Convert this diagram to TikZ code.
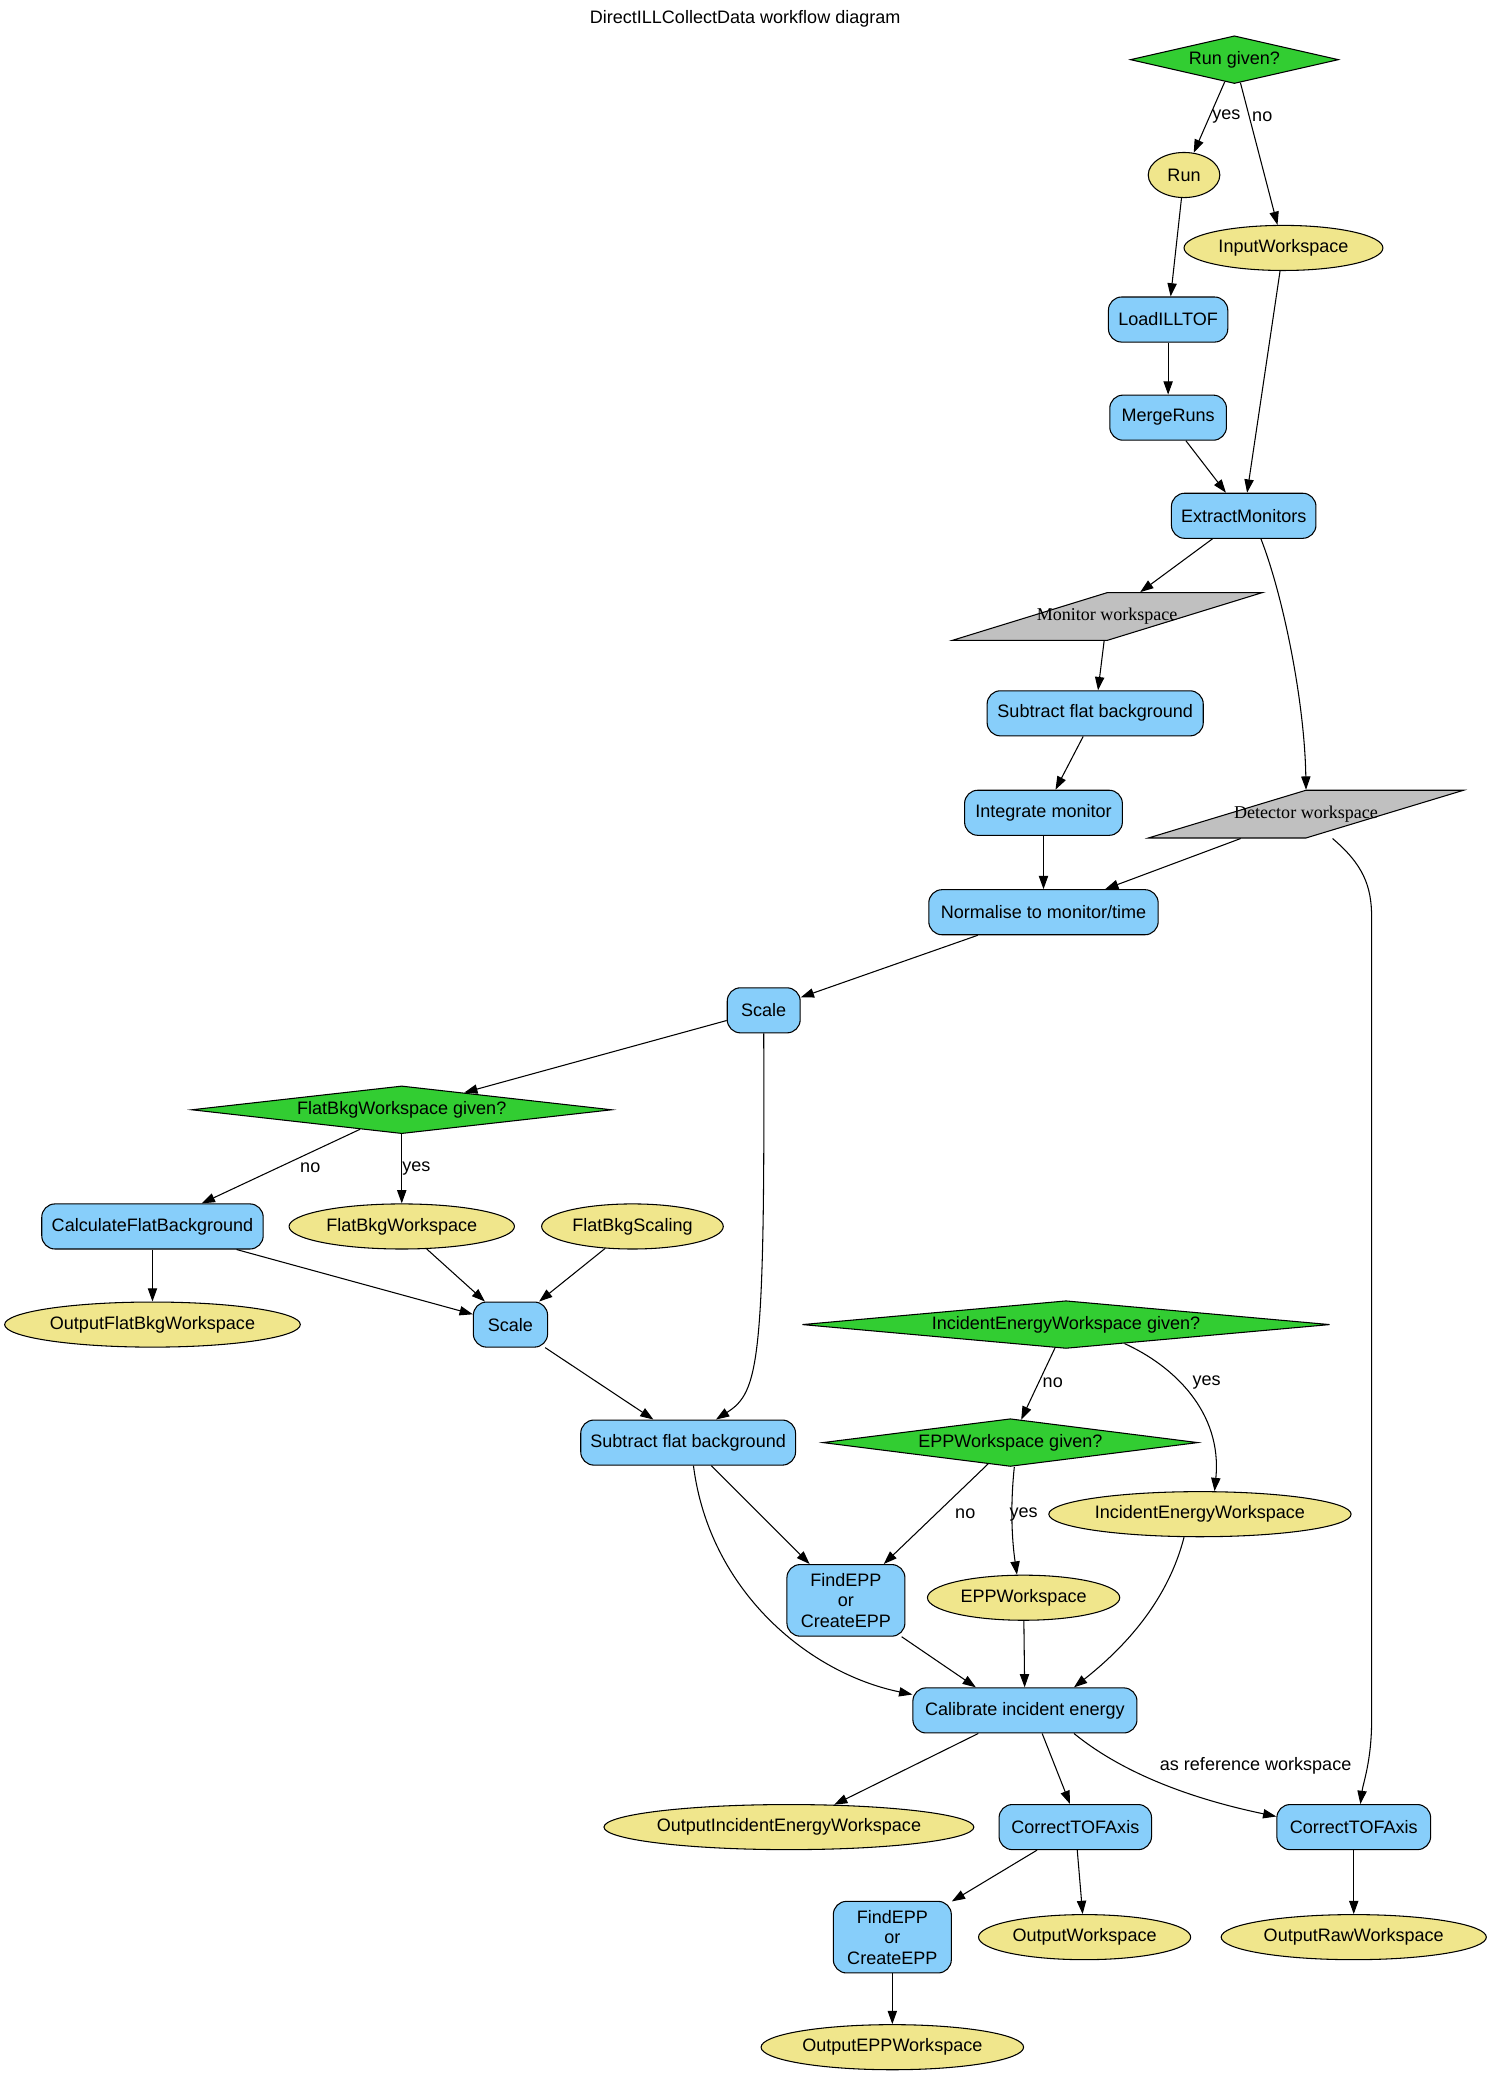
\documentclass[tikz,border=0pt]{standalone}
\usepackage{fontspec}
\setmainfont{Liberation Serif}
\setsansfont{Liberation Sans}
\usetikzlibrary{shapes.geometric,arrows.meta,calc}
\definecolor{procblue}{HTML}{87CEFA}
\definecolor{iokhaki}{HTML}{F0E68C}
\definecolor{decgreen}{HTML}{32CD32}
\definecolor{wsgray}{HTML}{C0C0C0}
\newcommand{\zw}[1]{\makebox[0pt]{#1}}
\begin{document}
\begin{tikzpicture}[x=1pt,y=-1pt,
  every node/.style={font=\sffamily\fontsize{13.6}{15.5}\selectfont},
  proc/.style={draw, fill=procblue, rounded corners=10pt, minimum height=34pt, inner sep=0pt, align=center, line width=0.8pt},
  io/.style={ellipse, draw, fill=iokhaki, minimum height=34pt, inner sep=0pt, line width=0.8pt},
  decision/.style={diamond, draw, fill=decgreen, minimum height=36pt, inner sep=0pt, line width=0.8pt},
  pgram/.style={trapezium, trapezium left angle=45, trapezium right angle=135, trapezium stretches=true, draw, fill=wsgray, minimum height=36pt, inner sep=0pt, line width=0.8pt, font=\rmfamily\fontsize{13.6}{15.5}\selectfont},
  arr/.style={draw, line width=0.8pt, -{Triangle[length=10pt,width=7pt]}},
  lbl/.style={inner sep=0pt}
]
\fill[white] (0,0) rectangle (1125,1568);
\useasboundingbox (0,0) rectangle (1125,1568);

\node (title) at (562,14) {DirectILLCollectData workflow diagram};
\node[decision, minimum width=157pt] (rg) at (931,45) {\zw{Run given?}};
\node[io, minimum width=54pt] (run) at (893,132) {\zw{Run}};
\node[io, minimum width=150pt] (iw) at (968,187) {\zw{InputWorkspace}};
\node[proc, minimum width=90pt] (load) at (881,241) {LoadILLTOF};
\node[proc, minimum width=88pt] (merge) at (881,315) {MergeRuns};
\node[proc, minimum width=109pt] (ext) at (938,389) {ExtractMonitors};
\node[pgram, minimum width=234pt] (mw) at (835,465) {\zw{Monitor workspace}};
\node[proc, minimum width=163pt] (sub1) at (826,538) {Subtract flat background};
\node[proc, minimum width=119pt] (int) at (787,613) {Integrate monitor};
\node[pgram, minimum width=238pt] (dw) at (985,614) {\zw{Detector workspace}};
\node[proc, minimum width=173pt] (norm) at (787,688) {Normalise to monitor/time};
\node[proc, minimum width=55pt] (sc1) at (576,762) {Scale};
\node[decision, minimum width=317pt] (fbg) at (303,837) {\zw{FlatBkgWorkspace given?}};
\node[proc, minimum width=167pt] (cfb) at (115,925) {CalculateFlatBackground};
\node[io, minimum width=170pt] (fbw) at (303,925) {\zw{FlatBkgWorkspace}};
\node[io, minimum width=137pt] (fbs) at (477,925) {\zw{FlatBkgScaling}};
\node[io, minimum width=223pt] (ofbw) at (115,999) {\zw{OutputFlatBkgWorkspace}};
\node[proc, minimum width=56pt] (sc2) at (385,999) {Scale};
\node[decision, minimum width=398pt] (iewg) at (804,999) {\zw{IncidentEnergyWorkspace given?}};
\node[proc, minimum width=162pt] (sub2) at (519,1088) {Subtract flat background};
\node[decision, minimum width=283pt] (epg) at (762,1088) {\zw{EPPWorkspace given?}};
\node[io, minimum width=228pt] (iew) at (905,1142) {\zw{IncidentEnergyWorkspace}};
\node[proc, minimum width=89pt, minimum height=54pt] (fe1) at (638,1207) {FindEPP\\or\\CreateEPP};
\node[io, minimum width=145pt] (epw) at (772,1205) {\zw{EPPWorkspace}};
\node[proc, minimum width=169pt] (cal) at (773,1290) {Calibrate incident energy};
\node[io, minimum width=279pt] (oiew) at (595,1378) {\zw{OutputIncidentEnergyWorkspace}};
\node[proc, minimum width=115pt] (ct1) at (811,1378) {CorrectTOFAxis};
\node[proc, minimum width=116pt] (ct2) at (1021,1378) {CorrectTOFAxis};
\node[proc, minimum width=89pt, minimum height=54pt] (fe2) at (673,1461) {FindEPP\\or\\CreateEPP};
\node[io, minimum width=160pt] (ow) at (818,1461) {\zw{OutputWorkspace}};
\node[io, minimum width=200pt] (orw) at (1021,1461) {\zw{OutputRawWorkspace}};
\node[io, minimum width=198pt] (oepp) at (673,1544) {\zw{OutputEPPWorkspace}};

\draw[arr] (rg) -- (run) node[lbl] at (925,88) {yes};
\draw[arr] (rg) -- (iw) node[lbl] at (952,88) {no};
\draw[arr] (run) -- (load);
\draw[arr] (iw) -- (ext);
\draw[arr] (load) -- (merge);
\draw[arr] (merge) -- (ext);
\draw[arr] (ext) -- (mw);
\draw[arr] ([xshift=13pt]ext.south) .. controls (968,450) and (984,530) .. (dw.north);
\draw[arr] (mw) -- (sub1);
\draw[arr] (sub1) -- (int);
\draw[arr] (int) -- (norm);
\draw[arr] (dw) -- (norm);
\draw[arr] ([xshift=20pt]dw.south) .. controls (1028,652) and (1034.5,668) .. (1034.5,692) -- (1034.5,1297) .. controls (1034.5,1328) and (1028,1345) .. ([xshift=5pt]ct2.north);
\draw[arr] (norm) -- (sc1);
\draw[arr] (sc1) -- (fbg);
\draw[arr] (sc1.south) .. controls (577,1030) and (572,1050) .. ([xshift=21pt]sub2.north);
\draw[arr] (fbg) -- (cfb) node[lbl] at (234,881) {no};
\draw[arr] (fbg) -- (fbw) node[lbl] at (314,881) {yes};
\draw[arr] (cfb) -- (ofbw);
\draw[arr] (cfb) -- (sc2);
\draw[arr] (fbw) -- (sc2);
\draw[arr] (fbs) -- (sc2);
\draw[arr] (sc2) -- (sub2);
\draw[arr] (iewg) -- (epg) node[lbl] at (794,1043) {no};
\draw[arr] (iewg.-18) .. controls (885,1030) and (922,1065) .. ([xshift=11pt]iew.north) node[lbl] at (910,1043) {yes};
\draw[arr] (epg) -- (fe1) node[lbl] at (728,1142) {no};
\draw[arr] ([xshift=3pt]epg.south) .. controls (762,1135) and (763,1160) .. ([xshift=-5pt]epw.north) node[lbl] at (772,1142) {yes};
\draw[arr] (sub2) -- (fe1);
\draw[arr] ([xshift=4pt]sub2.south) .. controls (535,1200) and (610,1262) .. ([yshift=12pt]cal.west);
\draw[arr] ([xshift=42pt]fe1.south) -- ([xshift=-37pt]cal.north);
\draw[arr] (epw) -- (cal);
\draw[arr] ([xshift=-12pt]iew.south) .. controls (880,1210) and (845,1245) .. ([xshift=37pt]cal.north);
\draw[arr] (cal) -- (oiew);
\draw[arr] ([xshift=13pt]cal.south) -- ([xshift=-4pt]ct1.north);
\draw[arr] ([xshift=37pt]cal.south) .. controls (850,1340) and (905,1358) .. ([yshift=8pt]ct2.west) node[lbl] at (947,1332) {as reference workspace};
\draw[arr] (ct1) -- (fe2);
\draw[arr] (ct1) -- (ow);
\draw[arr] (ct2) -- (orw);
\draw[arr] (fe2) -- (oepp);
\end{tikzpicture}
\end{document}
